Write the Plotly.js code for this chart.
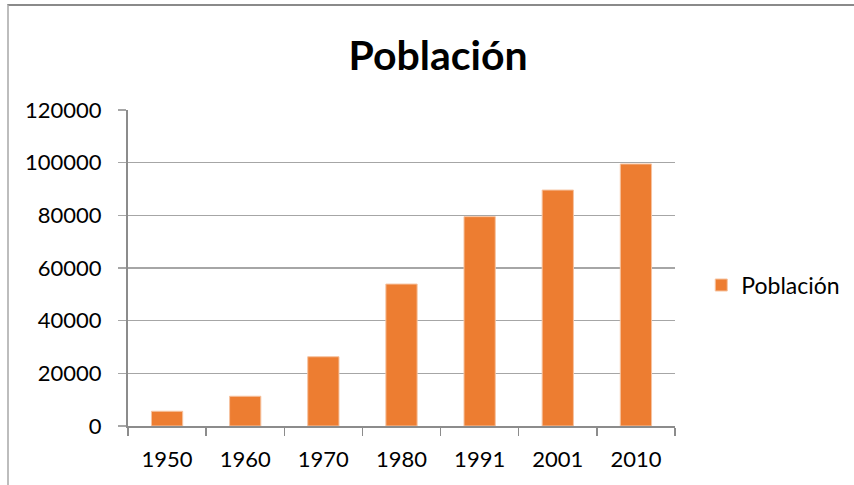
<!DOCTYPE html>
<html>
<head>
<meta charset="utf-8">
<script src="https://cdn.plot.ly/plotly-3.0.1.min.js"></script>
<style>
html,body{margin:0;padding:0;background:#fff;}
#wrap{position:relative;width:854px;height:485px;overflow:hidden;}
#chart{position:absolute;left:0;top:0;width:854px;height:485px;}
#frame{position:absolute;left:7px;top:4px;width:900px;height:600px;border-top:2px solid #8a8a8a;border-left:2px solid #bdbdbd;pointer-events:none;}
</style>
</head>
<body>
<div id="wrap">
<div id="chart"></div>
<div id="frame"></div>
</div>
<script>
const years = ["1950", "1960", "1970", "1980", "1991", "2001", "2010"];
const poblacion = [5600, 11300, 26300, 53900, 79500, 89600, 99500];
const seriesName = "Población";
const titleText = "Población";
const yTicks = [0, 20000, 40000, 60000, 80000, 100000, 120000];

const trace = {
  type: "bar",
  x: years,
  y: poblacion,
  name: seriesName,
  marker: {color: "#ED7D31", line: {color: "#F6C3A0", width: 1}},
  showlegend: true
};

const layout = {
  width: 854, height: 485,
  margin: {l: 128, r: 179, t: 110, b: 59, autoexpand: false},
  paper_bgcolor: "#ffffff",
  plot_bgcolor: "#ffffff",
  font: {family: "Lato, 'Open Sans', sans-serif", color: "#000", size: 22},
  title: {
    text: "<b>" + titleText + "</b>",
    font: {family: "Lato, 'Open Sans', sans-serif", size: 41, color: "#000"},
    xref: "paper", x: 0.567, xanchor: "center",
    yref: "container", y: 0.885, yanchor: "middle"
  },
  bargap: 0.6,
  showlegend: true,
  legend: {
    x: 1.048, xanchor: "left", y: 0.446, yanchor: "middle",
    font: {size: 23, color: "#000"},
    itemwidth: 30, bgcolor: "rgba(0,0,0,0)"
  },
  xaxis: {
    type: "category",
    showline: true, linecolor: "#8c8c8c", linewidth: 2,
    ticks: "outside", tickson: "boundaries", ticklen: 8, tickcolor: "#8c8c8c", tickwidth: 1.5,
    showgrid: false,
    ticklabelstandoff: 13,
    tickfont: {size: 22, color: "#000"}
  },
  yaxis: {
    range: [0, 120000],
    tickvals: yTicks,
    ticktext: yTicks.map(String),
    showline: true, linecolor: "#8c8c8c", linewidth: 2,
    ticks: "outside", ticklen: 8, tickcolor: "#a6a6a6", tickwidth: 1.5,
    showgrid: true, gridcolor: "#a6a6a6", gridwidth: 1.5,
    zeroline: false,
    ticklabelstandoff: 12,
    tickfont: {size: 22, color: "#000"}
  }
};

Plotly.newPlot("chart", [trace], layout, {displayModeBar: false, staticPlot: true});
</script>
</body>
</html>
